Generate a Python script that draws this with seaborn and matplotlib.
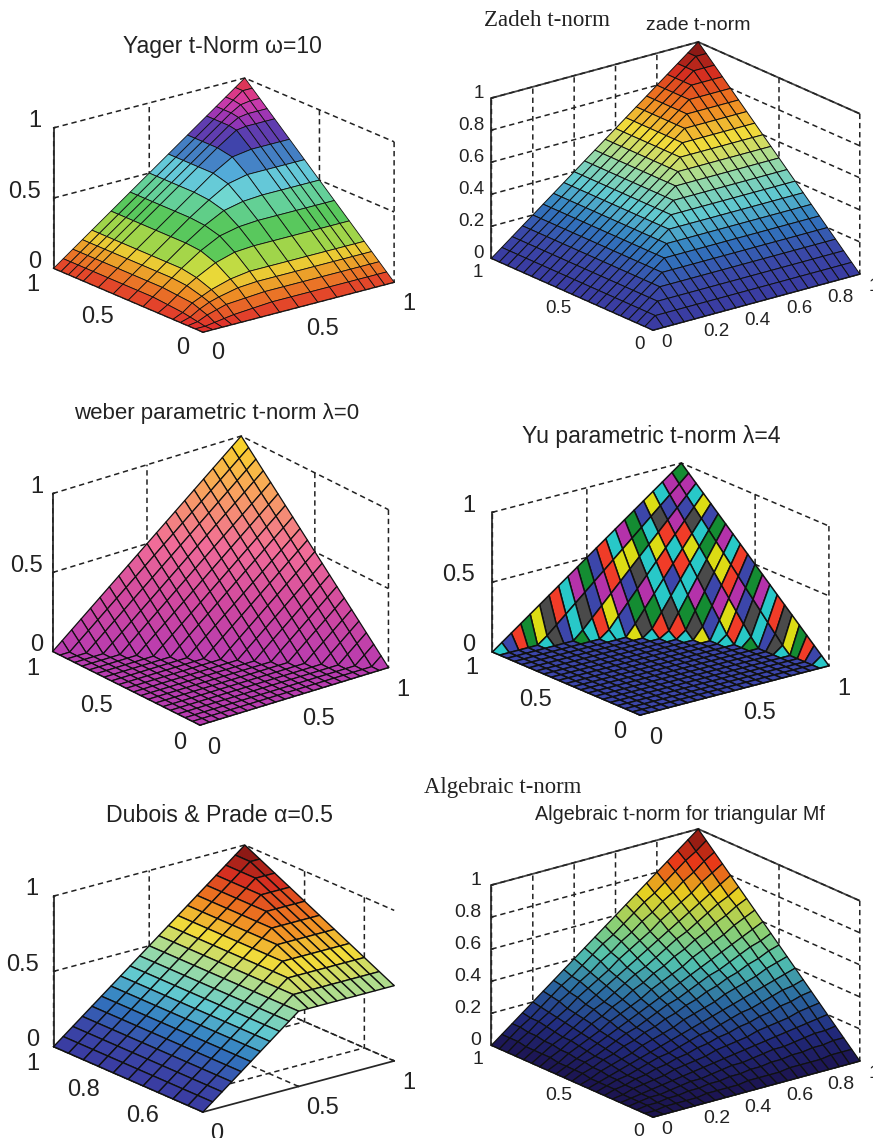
import numpy as np
import matplotlib
matplotlib.use('Agg')
import matplotlib.pyplot as plt
from matplotlib.colors import ListedColormap
from mpl_toolkits.mplot3d import proj3d
import seaborn as sns

sns.set_theme(style='white')
plt.rcParams['font.family'] = ['Liberation Sans', 'DejaVu Sans']

# surface heights in percent
levels_15 = [0, 5, 10, 15, 20, 30, 40, 50, 60, 70, 80, 85, 90, 95, 100]
levels_21 = [0, 5, 10, 15, 20, 25, 30, 35, 40, 45, 50, 55, 60, 65, 70, 75, 80, 85, 90, 95, 100]
levels_half = [50, 55, 60, 65, 70, 75, 80, 85, 90, 95, 100]

yager_z = [
    [0, 0, 0, 0, 0, 0, 0, 0, 0, 0, 0, 0, 0, 0, 0],
    [0, 0, 1, 2, 3, 4, 5, 5, 5, 5, 5, 5, 5, 5, 5],
    [0, 1, 4, 6, 8, 9, 10, 10, 10, 10, 10, 10, 10, 10, 10],
    [0, 2, 6, 9, 11, 14, 15, 15, 15, 15, 15, 15, 15, 15, 15],
    [0, 3, 8, 11, 14, 18, 20, 20, 20, 20, 20, 20, 20, 20, 20],
    [0, 4, 9, 14, 18, 25, 29, 30, 30, 30, 30, 30, 30, 30, 30],
    [0, 5, 10, 15, 20, 29, 36, 39, 40, 40, 40, 40, 40, 40, 40],
    [0, 5, 10, 15, 20, 30, 39, 46, 49, 50, 50, 50, 50, 50, 50],
    [0, 5, 10, 15, 20, 30, 40, 49, 57, 60, 60, 60, 60, 60, 60],
    [0, 5, 10, 15, 20, 30, 40, 50, 60, 68, 70, 70, 70, 70, 70],
    [0, 5, 10, 15, 20, 30, 40, 50, 60, 70, 79, 80, 80, 80, 80],
    [0, 5, 10, 15, 20, 30, 40, 50, 60, 70, 80, 84, 85, 85, 85],
    [0, 5, 10, 15, 20, 30, 40, 50, 60, 70, 80, 85, 89, 90, 90],
    [0, 5, 10, 15, 20, 30, 40, 50, 60, 70, 80, 85, 90, 95, 95],
    [0, 5, 10, 15, 20, 30, 40, 50, 60, 70, 80, 85, 90, 95, 100],
]

zadeh_z = [
    [0, 0, 0, 0, 0, 0, 0, 0, 0, 0, 0, 0, 0, 0, 0, 0, 0, 0, 0, 0, 0],
    [0, 5, 5, 5, 5, 5, 5, 5, 5, 5, 5, 5, 5, 5, 5, 5, 5, 5, 5, 5, 5],
    [0, 5, 10, 10, 10, 10, 10, 10, 10, 10, 10, 10, 10, 10, 10, 10, 10, 10, 10, 10, 10],
    [0, 5, 10, 15, 15, 15, 15, 15, 15, 15, 15, 15, 15, 15, 15, 15, 15, 15, 15, 15, 15],
    [0, 5, 10, 15, 20, 20, 20, 20, 20, 20, 20, 20, 20, 20, 20, 20, 20, 20, 20, 20, 20],
    [0, 5, 10, 15, 20, 25, 25, 25, 25, 25, 25, 25, 25, 25, 25, 25, 25, 25, 25, 25, 25],
    [0, 5, 10, 15, 20, 25, 30, 30, 30, 30, 30, 30, 30, 30, 30, 30, 30, 30, 30, 30, 30],
    [0, 5, 10, 15, 20, 25, 30, 35, 35, 35, 35, 35, 35, 35, 35, 35, 35, 35, 35, 35, 35],
    [0, 5, 10, 15, 20, 25, 30, 35, 40, 40, 40, 40, 40, 40, 40, 40, 40, 40, 40, 40, 40],
    [0, 5, 10, 15, 20, 25, 30, 35, 40, 45, 45, 45, 45, 45, 45, 45, 45, 45, 45, 45, 45],
    [0, 5, 10, 15, 20, 25, 30, 35, 40, 45, 50, 50, 50, 50, 50, 50, 50, 50, 50, 50, 50],
    [0, 5, 10, 15, 20, 25, 30, 35, 40, 45, 50, 55, 55, 55, 55, 55, 55, 55, 55, 55, 55],
    [0, 5, 10, 15, 20, 25, 30, 35, 40, 45, 50, 55, 60, 60, 60, 60, 60, 60, 60, 60, 60],
    [0, 5, 10, 15, 20, 25, 30, 35, 40, 45, 50, 55, 60, 65, 65, 65, 65, 65, 65, 65, 65],
    [0, 5, 10, 15, 20, 25, 30, 35, 40, 45, 50, 55, 60, 65, 70, 70, 70, 70, 70, 70, 70],
    [0, 5, 10, 15, 20, 25, 30, 35, 40, 45, 50, 55, 60, 65, 70, 75, 75, 75, 75, 75, 75],
    [0, 5, 10, 15, 20, 25, 30, 35, 40, 45, 50, 55, 60, 65, 70, 75, 80, 80, 80, 80, 80],
    [0, 5, 10, 15, 20, 25, 30, 35, 40, 45, 50, 55, 60, 65, 70, 75, 80, 85, 85, 85, 85],
    [0, 5, 10, 15, 20, 25, 30, 35, 40, 45, 50, 55, 60, 65, 70, 75, 80, 85, 90, 90, 90],
    [0, 5, 10, 15, 20, 25, 30, 35, 40, 45, 50, 55, 60, 65, 70, 75, 80, 85, 90, 95, 95],
    [0, 5, 10, 15, 20, 25, 30, 35, 40, 45, 50, 55, 60, 65, 70, 75, 80, 85, 90, 95, 100],
]

weber_z = [
    [0, 0, 0, 0, 0, 0, 0, 0, 0, 0, 0, 0, 0, 0, 0, 0, 0, 0, 0, 0, 0],
    [0, 0, 0, 0, 0, 0, 0, 0, 0, 0, 0, 0, 0, 0, 0, 0, 0, 0, 0, 0, 5],
    [0, 0, 0, 0, 0, 0, 0, 0, 0, 0, 0, 0, 0, 0, 0, 0, 0, 0, 0, 5, 10],
    [0, 0, 0, 0, 0, 0, 0, 0, 0, 0, 0, 0, 0, 0, 0, 0, 0, 0, 5, 10, 15],
    [0, 0, 0, 0, 0, 0, 0, 0, 0, 0, 0, 0, 0, 0, 0, 0, 0, 5, 10, 15, 20],
    [0, 0, 0, 0, 0, 0, 0, 0, 0, 0, 0, 0, 0, 0, 0, 0, 5, 10, 15, 20, 25],
    [0, 0, 0, 0, 0, 0, 0, 0, 0, 0, 0, 0, 0, 0, 0, 5, 10, 15, 20, 25, 30],
    [0, 0, 0, 0, 0, 0, 0, 0, 0, 0, 0, 0, 0, 0, 5, 10, 15, 20, 25, 30, 35],
    [0, 0, 0, 0, 0, 0, 0, 0, 0, 0, 0, 0, 0, 5, 10, 15, 20, 25, 30, 35, 40],
    [0, 0, 0, 0, 0, 0, 0, 0, 0, 0, 0, 0, 5, 10, 15, 20, 25, 30, 35, 40, 45],
    [0, 0, 0, 0, 0, 0, 0, 0, 0, 0, 0, 5, 10, 15, 20, 25, 30, 35, 40, 45, 50],
    [0, 0, 0, 0, 0, 0, 0, 0, 0, 0, 5, 10, 15, 20, 25, 30, 35, 40, 45, 50, 55],
    [0, 0, 0, 0, 0, 0, 0, 0, 0, 5, 10, 15, 20, 25, 30, 35, 40, 45, 50, 55, 60],
    [0, 0, 0, 0, 0, 0, 0, 0, 5, 10, 15, 20, 25, 30, 35, 40, 45, 50, 55, 60, 65],
    [0, 0, 0, 0, 0, 0, 0, 5, 10, 15, 20, 25, 30, 35, 40, 45, 50, 55, 60, 65, 70],
    [0, 0, 0, 0, 0, 0, 5, 10, 15, 20, 25, 30, 35, 40, 45, 50, 55, 60, 65, 70, 75],
    [0, 0, 0, 0, 0, 5, 10, 15, 20, 25, 30, 35, 40, 45, 50, 55, 60, 65, 70, 75, 80],
    [0, 0, 0, 0, 5, 10, 15, 20, 25, 30, 35, 40, 45, 50, 55, 60, 65, 70, 75, 80, 85],
    [0, 0, 0, 5, 10, 15, 20, 25, 30, 35, 40, 45, 50, 55, 60, 65, 70, 75, 80, 85, 90],
    [0, 0, 5, 10, 15, 20, 25, 30, 35, 40, 45, 50, 55, 60, 65, 70, 75, 80, 85, 90, 95],
    [0, 5, 10, 15, 20, 25, 30, 35, 40, 45, 50, 55, 60, 65, 70, 75, 80, 85, 90, 95, 100],
]

yu_z = [
    [0, 0, 0, 0, 0, 0, 0, 0, 0, 0, 0, 0, 0, 0, 0, 0, 0, 0, 0, 0, 0],
    [0, 0, 0, 0, 0, 0, 0, 0, 0, 0, 0, 0, 0, 0, 0, 0, 0, 0, 0, 0, 5],
    [0, 0, 0, 0, 0, 0, 0, 0, 0, 0, 0, 0, 0, 0, 0, 0, 0, 0, 0, 0, 10],
    [0, 0, 0, 0, 0, 0, 0, 0, 0, 0, 0, 0, 0, 0, 0, 0, 0, 0, 0, 0, 15],
    [0, 0, 0, 0, 0, 0, 0, 0, 0, 0, 0, 0, 0, 0, 0, 0, 0, 0, 0, 0, 20],
    [0, 0, 0, 0, 0, 0, 0, 0, 0, 0, 0, 0, 0, 0, 0, 0, 0, 0, 0, 5, 25],
    [0, 0, 0, 0, 0, 0, 0, 0, 0, 0, 0, 0, 0, 0, 0, 0, 0, 0, 0, 11, 30],
    [0, 0, 0, 0, 0, 0, 0, 0, 0, 0, 0, 0, 0, 0, 0, 0, 0, 0, 0, 17, 35],
    [0, 0, 0, 0, 0, 0, 0, 0, 0, 0, 0, 0, 0, 0, 0, 0, 0, 0, 6, 23, 40],
    [0, 0, 0, 0, 0, 0, 0, 0, 0, 0, 0, 0, 0, 0, 0, 0, 0, 0, 13, 29, 45],
    [0, 0, 0, 0, 0, 0, 0, 0, 0, 0, 0, 0, 0, 0, 0, 0, 0, 5, 20, 35, 50],
    [0, 0, 0, 0, 0, 0, 0, 0, 0, 0, 0, 0, 0, 0, 0, 0, 0, 13, 27, 41, 55],
    [0, 0, 0, 0, 0, 0, 0, 0, 0, 0, 0, 0, 0, 0, 0, 0, 8, 21, 34, 47, 60],
    [0, 0, 0, 0, 0, 0, 0, 0, 0, 0, 0, 0, 0, 0, 0, 5, 17, 29, 41, 53, 65],
    [0, 0, 0, 0, 0, 0, 0, 0, 0, 0, 0, 0, 0, 0, 4, 15, 26, 37, 48, 59, 70],
    [0, 0, 0, 0, 0, 0, 0, 0, 0, 0, 0, 0, 0, 5, 15, 25, 35, 45, 55, 65, 75],
    [0, 0, 0, 0, 0, 0, 0, 0, 0, 0, 0, 0, 8, 17, 26, 35, 44, 53, 62, 71, 80],
    [0, 0, 0, 0, 0, 0, 0, 0, 0, 0, 5, 13, 21, 29, 37, 45, 53, 61, 69, 77, 85],
    [0, 0, 0, 0, 0, 0, 0, 0, 6, 13, 20, 27, 34, 41, 48, 55, 62, 69, 76, 83, 90],
    [0, 0, 0, 0, 0, 5, 11, 17, 23, 29, 35, 41, 47, 53, 59, 65, 71, 77, 83, 89, 95],
    [0, 5, 10, 15, 20, 25, 30, 35, 40, 45, 50, 55, 60, 65, 70, 75, 80, 85, 90, 95, 100],
]

dubois_z = [
    [0, 5, 10, 15, 20, 25, 30, 35, 40, 45, 50, 50, 50, 50, 50, 50, 50, 50, 50, 50, 50],
    [0, 5, 10, 15, 20, 25, 30, 35, 40, 45, 50, 55, 55, 55, 55, 55, 55, 55, 55, 55, 55],
    [0, 5, 10, 15, 20, 25, 30, 35, 40, 45, 50, 55, 60, 60, 60, 60, 60, 60, 60, 60, 60],
    [0, 5, 10, 15, 20, 25, 30, 35, 40, 45, 50, 55, 60, 65, 65, 65, 65, 65, 65, 65, 65],
    [0, 5, 10, 15, 20, 25, 30, 35, 40, 45, 50, 55, 60, 65, 70, 70, 70, 70, 70, 70, 70],
    [0, 5, 10, 15, 20, 25, 30, 35, 40, 45, 50, 55, 60, 65, 70, 75, 75, 75, 75, 75, 75],
    [0, 5, 10, 15, 20, 25, 30, 35, 40, 45, 50, 55, 60, 65, 70, 75, 80, 80, 80, 80, 80],
    [0, 5, 10, 15, 20, 25, 30, 35, 40, 45, 50, 55, 60, 65, 70, 75, 80, 85, 85, 85, 85],
    [0, 5, 10, 15, 20, 25, 30, 35, 40, 45, 50, 55, 60, 65, 70, 75, 80, 85, 90, 90, 90],
    [0, 5, 10, 15, 20, 25, 30, 35, 40, 45, 50, 55, 60, 65, 70, 75, 80, 85, 90, 95, 95],
    [0, 5, 10, 15, 20, 25, 30, 35, 40, 45, 50, 55, 60, 65, 70, 75, 80, 85, 90, 95, 100],
]

algebraic_z = [
    [0, 0, 0, 0, 0, 0, 0, 0, 0, 0, 0, 0, 0, 0, 0, 0, 0, 0, 0, 0, 0],
    [0, 0, 1, 1, 1, 1, 2, 2, 2, 2, 3, 3, 3, 3, 4, 4, 4, 4, 5, 5, 5],
    [0, 1, 1, 2, 2, 3, 3, 4, 4, 5, 5, 6, 6, 7, 7, 8, 8, 9, 9, 10, 10],
    [0, 1, 2, 2, 3, 4, 5, 5, 6, 7, 8, 8, 9, 10, 11, 11, 12, 13, 14, 14, 15],
    [0, 1, 2, 3, 4, 5, 6, 7, 8, 9, 10, 11, 12, 13, 14, 15, 16, 17, 18, 19, 20],
    [0, 1, 3, 4, 5, 6, 8, 9, 10, 11, 13, 14, 15, 16, 18, 19, 20, 21, 23, 24, 25],
    [0, 2, 3, 5, 6, 8, 9, 11, 12, 14, 15, 17, 18, 20, 21, 23, 24, 26, 27, 29, 30],
    [0, 2, 4, 5, 7, 9, 11, 12, 14, 16, 18, 19, 21, 23, 25, 26, 28, 30, 32, 33, 35],
    [0, 2, 4, 6, 8, 10, 12, 14, 16, 18, 20, 22, 24, 26, 28, 30, 32, 34, 36, 38, 40],
    [0, 2, 5, 7, 9, 11, 14, 16, 18, 20, 23, 25, 27, 29, 32, 34, 36, 38, 41, 43, 45],
    [0, 3, 5, 8, 10, 13, 15, 18, 20, 23, 25, 28, 30, 33, 35, 38, 40, 43, 45, 48, 50],
    [0, 3, 6, 8, 11, 14, 17, 19, 22, 25, 28, 30, 33, 36, 39, 41, 44, 47, 50, 52, 55],
    [0, 3, 6, 9, 12, 15, 18, 21, 24, 27, 30, 33, 36, 39, 42, 45, 48, 51, 54, 57, 60],
    [0, 3, 7, 10, 13, 16, 20, 23, 26, 29, 33, 36, 39, 42, 46, 49, 52, 55, 59, 62, 65],
    [0, 4, 7, 11, 14, 18, 21, 25, 28, 32, 35, 39, 42, 46, 49, 53, 56, 60, 63, 67, 70],
    [0, 4, 8, 11, 15, 19, 23, 26, 30, 34, 38, 41, 45, 49, 53, 56, 60, 64, 68, 71, 75],
    [0, 4, 8, 12, 16, 20, 24, 28, 32, 36, 40, 44, 48, 52, 56, 60, 64, 68, 72, 76, 80],
    [0, 4, 9, 13, 17, 21, 26, 30, 34, 38, 43, 47, 51, 55, 60, 64, 68, 72, 77, 81, 85],
    [0, 5, 9, 14, 18, 23, 27, 32, 36, 41, 45, 50, 54, 59, 63, 68, 72, 77, 81, 86, 90],
    [0, 5, 10, 14, 19, 24, 29, 33, 38, 43, 48, 52, 57, 62, 67, 71, 76, 81, 86, 90, 95],
    [0, 5, 10, 15, 20, 25, 30, 35, 40, 45, 50, 55, 60, 65, 70, 75, 80, 85, 90, 95, 100],
]

# tick labels
ticks_half = ['0', '0.5', '1']
ticks_fifth = ['0', '0.2', '0.4', '0.6', '0.8', '1']
ticks_dubois_y = ['0.6', '0.8', '1']

# colormaps
hsv_colors = ['#e0322c', '#ee8a25', '#e8e23a', '#5ac85a', '#58c860', '#70d8d0', '#58b8e0', '#3048a8', '#8a34b8', '#d83ca8', '#e0322c']
jet_colors = ['#3a3aa0', '#3a48a8', '#3078c0', '#60c8d0', '#a0dca0', '#f0dc3c', '#f08020', '#d83020', '#701010']
dark_jet_colors = ['#1c1450', '#222c80', '#2a68a0', '#50c0b0', '#90d070', '#e8d020', '#e83818', '#701010']
spring_colors = ['#b83cb0', '#d048a0', '#f06c98', '#f8a060', '#f8dc20']
prism_colors = ['#3c46aa', '#4a4a4a', '#28c8c8', '#148c32', '#dcdc14', '#f03c28', '#b432aa']

fig = plt.figure(figsize=(8.73, 11.38), dpi=100)
W, H = 873, 1138


def place(ax, origin, apex):
    # scale and shift the axes so the box corners land on the given pixels
    def project(pt):
        xp, yp, _ = proj3d.proj_transform(*pt, ax.get_proj())
        return ax.transData.transform((xp, yp))

    size = 0.4
    ax.set_position([0.3, 0.3, size, size * W / H])
    ax.apply_aspect()
    lo = ax.get_xlim3d()[0], ax.get_ylim3d()[0], 0
    hi = ax.get_xlim3d()[1], ax.get_ylim3d()[1], 1
    k = (origin[1] - apex[1]) / (project(hi)[1] - project(lo)[1])
    size *= k
    ax.set_position([0.3, 0.3, size, size * W / H])
    ax.apply_aspect()
    o = project(lo)
    left = 0.3 + (origin[0] - o[0]) / W
    bottom = 0.3 + (H - origin[1] - o[1]) / H
    ax.set_position([left, bottom, size, size * W / H])
    ax.apply_aspect()


def panel(z, xlev, ylev, cmap, origin, apex, elev, zbox, xt, xl, yt, yl, zt, zl, size, solid=False, lw=0.6,
          pad_x=-1, pad_y=2, pad_z=-3, y_ha='right', x_va='top', y_va='center_baseline'):
    ax = fig.add_subplot(projection='3d', proj_type='ortho', facecolor='none')
    ax.view_init(elev=elev, azim=-128)
    ax.set_box_aspect((1, 1, zbox))
    X, Y = np.meshgrid(np.array(xlev) / 100, np.array(ylev) / 100)
    ax.plot_surface(X, Y, np.array(z) / 100, cmap=cmap, vmin=0, vmax=1, rstride=1, cstride=1,
                    edgecolor='#101010', linewidth=lw, antialiased=True)
    ax.set_xlim(0, 1)
    ax.set_ylim(ylev[0] / 100, 1)
    ax.set_zlim(0, 1)
    ax.set_xticks(xt, xl)
    ax.set_yticks(yt, yl)
    ax.set_zticks(zt, zl)
    ax.tick_params(labelsize=size, colors='#222222')
    ax.tick_params(axis='x', pad=pad_x)
    ax.tick_params(axis='y', pad=pad_y)
    ax.tick_params(axis='z', pad=pad_z)
    plt.setp(ax.get_xticklabels(), ha='left', va=x_va)
    plt.setp(ax.get_yticklabels(), ha=y_ha, va=y_va)
    plt.setp(ax.get_zticklabels(), ha='right', va='baseline')
    for axis in (ax.xaxis, ax.yaxis, ax.zaxis):
        axis.pane.set_fill(False)
        axis.pane.set_alpha(1)
        axis.pane.set_edgecolor('#444444' if solid else (1, 1, 1, 0))
        axis.pane.set_linewidth(1.3)
        axis._axinfo['grid'].update(color='#222222', linestyle=(0, (3.5, 2.5)), linewidth=1.1)
        axis._axinfo['axisline']['color'] = '#222222'
        axis._axinfo['axisline']['linewidth'] = 1.3
        axis._axinfo['tick'].update(inward_factor=0.0, outward_factor=0.1)
    place(ax, origin, apex)
    return ax


cuts_half = [0, 0.5, 1]
cuts_fifth = [0, 0.2, 0.4, 0.6, 0.8, 1]
cuts_dubois_y = [0.6, 0.8, 1]

hsv_cmap = sns.blend_palette(hsv_colors, n_colors=256, as_cmap=True)
jet_cmap = sns.blend_palette(jet_colors, n_colors=256, as_cmap=True)
dark_cmap = sns.blend_palette(dark_jet_colors, n_colors=256, as_cmap=True)
spring_cmap = sns.blend_palette(spring_colors, n_colors=256, as_cmap=True)
prism_cmap = ListedColormap(sns.color_palette(prism_colors) * 29)

panel(yager_z, levels_15, levels_15, hsv_cmap, (203, 332), (245, 78), 19.5, 0.614,
      cuts_half, ticks_half, cuts_half, ticks_half, cuts_half, ticks_half, 17)
panel(zadeh_z, levels_21, levels_21, jet_cmap, (653, 330), (699, 42), 20.3, 0.651,
      cuts_fifth, ticks_fifth, cuts_half, ticks_half, cuts_fifth, ticks_fifth, 13.5, solid=True, lw=0.7,
      y_ha='center', pad_x=0, pad_z=-5, x_va='center', y_va='center')
panel(weber_z, levels_21, levels_21, spring_cmap, (200, 725), (243, 436), 23, 0.717,
      cuts_half, ticks_half, cuts_half, ticks_half, cuts_half, ticks_half, 17, lw=0.9, pad_z=-4)
panel(yu_z, levels_21, levels_21, prism_cmap, (640, 715), (683, 463), 19.5, 0.618,
      cuts_half, ticks_half, cuts_half, ticks_half, cuts_half, ticks_half, 17, lw=1.1, pad_x=0, pad_z=-1)
panel(dubois_z, levels_21, levels_half, jet_cmap, (203, 1112), (245, 845), 20, 0.66,
      cuts_half, ticks_half, cuts_dubois_y, ticks_dubois_y, cuts_half, ticks_half, 17, lw=1.0, pad_z=-2)
panel(algebraic_z, levels_21, levels_21, dark_cmap, (653, 1117), (699, 829), 20.3, 0.651,
      cuts_fifth, ticks_fifth, cuts_half, ticks_half, cuts_fifth, ticks_fifth, 14, solid=True, lw=0.9,
      y_ha='center', pad_x=0, pad_z=-4, x_va='center', y_va='center')

sans_titles = [
    ('Yager t-Norm ω=10', 222, 47, 16.5),
    ('zade t-norm', 698, 26, 14),
    ('weber parametric t-norm λ=0', 217, 413, 16),
    ('Yu parametric t-norm λ=4', 651, 436, 16.6),
    ('Dubois & Prade α=0.5', 220, 815, 16.7),
    ('Algebraic t-norm for triangular Mf', 680, 815, 14.2),
]
serif_titles = [('Zadeh t-norm', 547, 21, 16.6), ('Algebraic t-norm', 503, 787, 16.4)]
for txt, px, py, fs in sans_titles:
    fig.text(px / W, 1 - py / H, txt, ha='center', va='center', fontsize=fs, color='#222222')
for txt, px, py, fs in serif_titles:
    fig.text(px / W, 1 - py / H, txt, ha='center', va='center', fontsize=fs, color='#222222',
             family='Liberation Serif')

fig.savefig('out.png', dpi=100)
